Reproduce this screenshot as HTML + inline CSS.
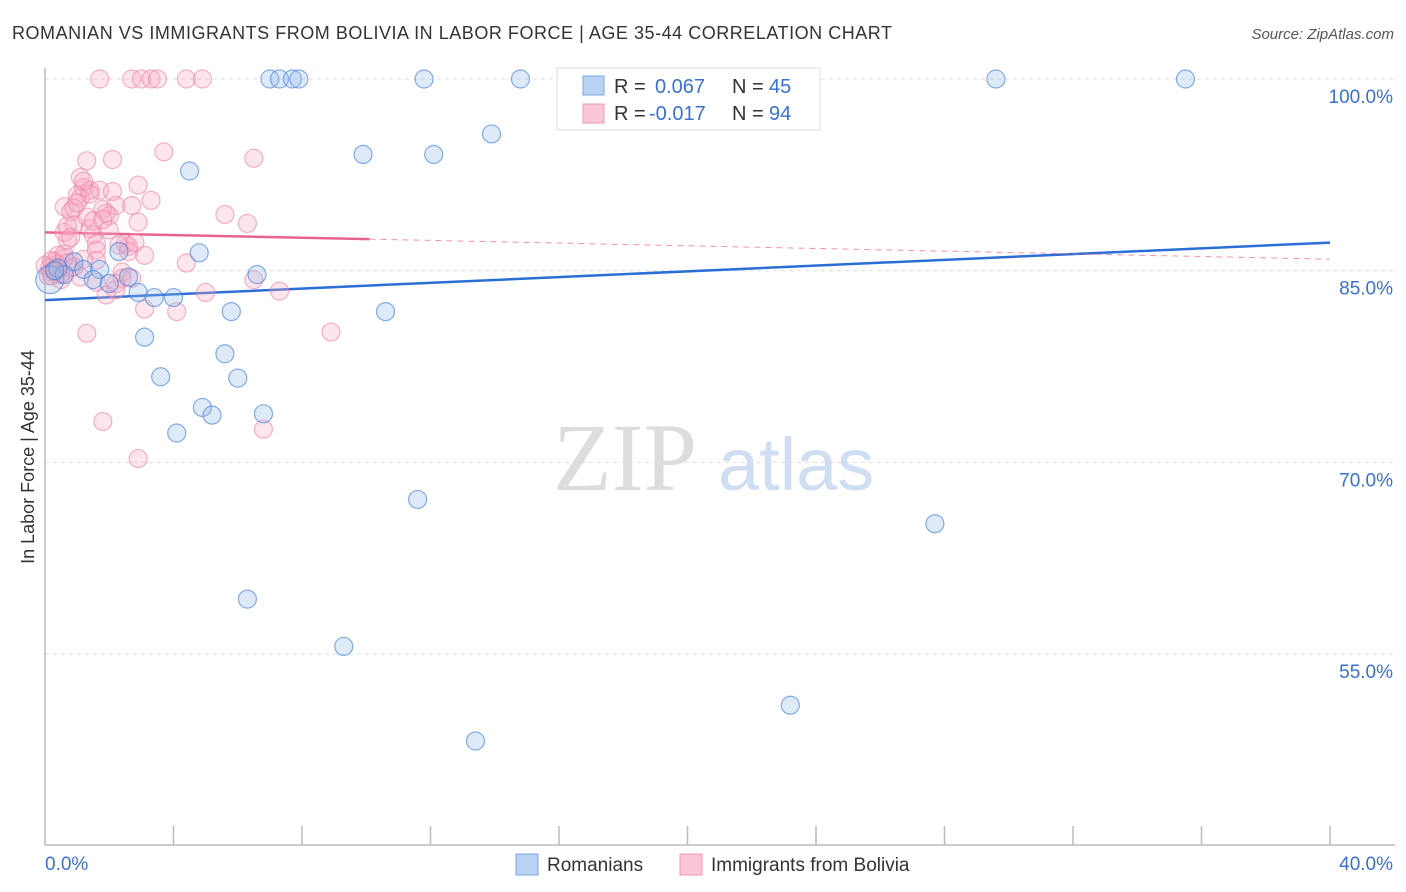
<!DOCTYPE html>
<html><head><meta charset="utf-8"><style>
body{margin:0;background:#fff;font-family:"Liberation Sans",sans-serif}
svg{display:block}
</style></head><body>
<svg id="chart" width="1406" height="892" xmlns="http://www.w3.org/2000/svg">
<text x="12" y="39" font-size="18" fill="#333" textLength="880">ROMANIAN VS IMMIGRANTS FROM BOLIVIA IN LABOR FORCE | AGE 35-44 CORRELATION CHART</text>
<text x="1394" y="39" font-size="15" fill="#555" font-style="italic" text-anchor="end">Source: ZipAtlas.com</text>
<text transform="translate(34,457) rotate(-90)" font-size="18" fill="#333" text-anchor="middle">In Labor Force | Age 35-44</text>
<g><text x="553" y="490" font-size="96" font-family="Liberation Serif,serif" fill="#ddd">ZIP</text><text x="718" y="490" font-size="74" fill="#d0def2">atlas</text></g>
<g id="grid"></g><g id="axes"></g><g id="trend"></g><g id="pts"></g>
<g>
<rect x="557" y="68" width="263" height="62" fill="#fff" stroke="#ddd"/>
<rect x="583" y="76" width="21" height="19" fill="#b9d1f3" stroke="#7ea6e6"/>
<rect x="583" y="104" width="21" height="19" fill="#fbc6d6" stroke="#f09ab5"/>
<text x="614" y="93" font-size="20" fill="#333">R =</text><text x="655" y="93" font-size="20" fill="#3a70d0">0.067</text>
<text x="732" y="93" font-size="20" fill="#333">N =</text><text x="769" y="93" font-size="20" fill="#3a70d0">45</text>
<text x="614" y="120" font-size="20" fill="#333">R =</text><text x="649" y="120" font-size="20" fill="#3a70d0">-0.017</text>
<text x="732" y="120" font-size="20" fill="#333">N =</text><text x="769" y="120" font-size="20" fill="#3a70d0">94</text>
</g>
<g>
<rect x="516" y="854" width="22" height="21" fill="#b9d1f3" stroke="#7ea6e6"/>
<text x="547" y="871" font-size="19" fill="#333">Romanians</text>
<rect x="680" y="854" width="22" height="21" fill="#fbc6d6" stroke="#f09ab5"/>
<text x="711" y="871" font-size="19" fill="#333">Immigrants from Bolivia</text>
</g>
</svg>
<script>
const blueX=[7.0,7.3,7.7,7.9,11.8,14.8,16.4,29.6,35.5,13.9,9.9,12.1,4.5,4.8,6.6,2.3,0.9,1.2,1.7,1.5,2.0,2.6,2.9,3.4,4.0,5.8,10.6,3.1,5.6,3.6,6.0,4.9,5.2,6.8,4.1,11.6,27.7,6.3,9.3,23.2,13.4,0.15,0.4,0.6,0.3];
const blueY=[100,100,100,100,100,100,100,100,100,95.7,94.1,94.1,92.8,86.4,84.7,86.5,85.7,85.1,85.1,84.3,84.0,84.5,83.3,82.9,82.9,81.8,81.8,79.8,78.5,76.7,76.6,74.3,73.7,73.8,72.3,67.1,65.2,59.3,55.6,51.0,48.2,84.3,85.2,84.7,85.0];
const pinkX=[1.7,2.7,3.0,3.3,3.5,4.4,4.9,3.7,6.5,1.3,2.1,1.1,2.9,1.2,1.4,1.7,1.1,3.3,0.6,2.2,2.7,0.8,1.8,5.6,2.0,2.9,6.3,0.9,1.4,0.6,1.5,0.7,2.5,1.6,2.6,1.6,3.1,0.4,1.6,4.4,0.3,0.15,0.3,0.5,0.1,0.5,0.8,0,2.4,2.4,2.7,6.5,2.2,1.9,5.0,7.3,3.1,4.1,1.3,8.9,1.8,6.8,2.9,1.0,1.3,1.5,0.9,2.0,2.3,0.6,1.2,0.4,0.2,1.9,2.1,0.7,1.0,2.6,0.5,0.3,1.1,1.6,0.9,0.2,0.6,1.4,2.8,1.8,0.8,0.4,0.2,1.2,2.2,0.7];
const pinkY=[100,100,100,100,100,100,100,94.3,93.8,93.6,93.7,92.3,91.7,91.5,91.3,91.3,90.7,90.5,90.0,90.1,90.1,89.6,89.8,89.4,89.3,88.8,88.7,88.6,88.3,88.0,87.8,87.4,87.1,87.1,86.9,86.6,86.2,86.2,85.8,85.6,85.7,85.2,84.9,84.7,84.6,84.3,85.2,85.4,84.9,84.4,84.4,84.3,83.5,83.1,83.3,83.4,82.0,81.8,80.1,80.2,73.2,72.6,70.3,90.9,89.2,88.9,89.9,88.2,87.0,86.3,85.9,85.5,85.8,89.5,91.2,88.5,90.3,86.5,84.8,85.1,84.5,84.1,85.3,84.9,86.0,91.0,87.2,89.0,87.6,85.0,84.6,92.0,84.0,85.6];
const trendBlue=[82.7,87.2], trendPink=[88.0,85.9];
const yTicks=[100,85,70,55];
const X0=45,X1=1330;
function sx(v){return X0+(v/40)*(X1-X0);}
function sy(v){return 79+(100-v)*12.78;}
const NS='http://www.w3.org/2000/svg';
function mk(t,a,p){const e=document.createElementNS(NS,t);for(const k in a)e.setAttribute(k,a[k]);p.appendChild(e);return e;}
const grid=document.getElementById('grid'),axes=document.getElementById('axes');
yTicks.forEach(t=>{
 const l=mk('line',{x1:X0,x2:1395,y1:sy(t),y2:sy(t),stroke:'#ddd','stroke-dasharray':'4,4'},grid);
 
 
 const tx=mk('text',{x:1393,y:sy(t)+24,'font-size':19,fill:'#3a70d0','text-anchor':'end'},axes);
 tx.textContent=t.toFixed(1)+'%';
 
 
});
const ax=mk('line',{x1:X0,x2:1395,y1:845,y2:845,stroke:'#bbb','stroke-width':1.5},axes);


const ay=mk('line',{x1:X0,x2:X0,y1:68,y2:845,stroke:'#bbb','stroke-width':1.5},axes);


for(let i=1;i<=10;i++){const t=mk('line',{x1:sx(i*4),x2:sx(i*4),y1:826,y2:845,stroke:'#bbb','stroke-width':1.5},axes);
 
 }
[[0,'0.0%',45,'start'],[40,'40.0%',1393,'end']].forEach(d=>{const t=mk('text',{x:d[2],y:870,'font-size':19,fill:'#3a70d0','text-anchor':d[3]},axes);t.textContent=d[1];
 
 });
const tr=document.getElementById('trend');
const bl=mk('line',{x1:sx(0),x2:sx(40),y1:sy(trendBlue[0]),y2:sy(trendBlue[1]),stroke:'#2b6fd6','stroke-width':2.5},tr);


const pAt=v=>trendPink[0]+(trendPink[1]-trendPink[0])*v/40;
const pl=mk('line',{x1:sx(0),x2:sx(10.1),y1:sy(pAt(0)),y2:sy(pAt(10.1)),stroke:'#e8648e','stroke-width':2.5},tr);


const pd=mk('line',{x1:sx(10.1),x2:sx(40),y1:sy(pAt(10.1)),y2:sy(pAt(40)),stroke:'#e8648e','stroke-width':1,'stroke-dasharray':'6,5','stroke-opacity':0.7},tr);


const pts=document.getElementById('pts');
pinkX.forEach((x,i)=>{const c=mk('circle',{cx:sx(x),cy:sy(pinkY[i]),r:9,fill:'rgba(248,170,195,0.3)',stroke:'rgba(235,130,165,0.6)','stroke-width':1.2},pts);
 
 });
blueX.forEach((x,i)=>{const c=mk('circle',{cx:sx(x),cy:sy(blueY[i]),r:i==41?14:9,fill:'rgba(150,185,235,0.3)',stroke:'rgba(70,130,215,0.65)','stroke-width':1.2},pts);
 
 });
</script>
</body></html>
